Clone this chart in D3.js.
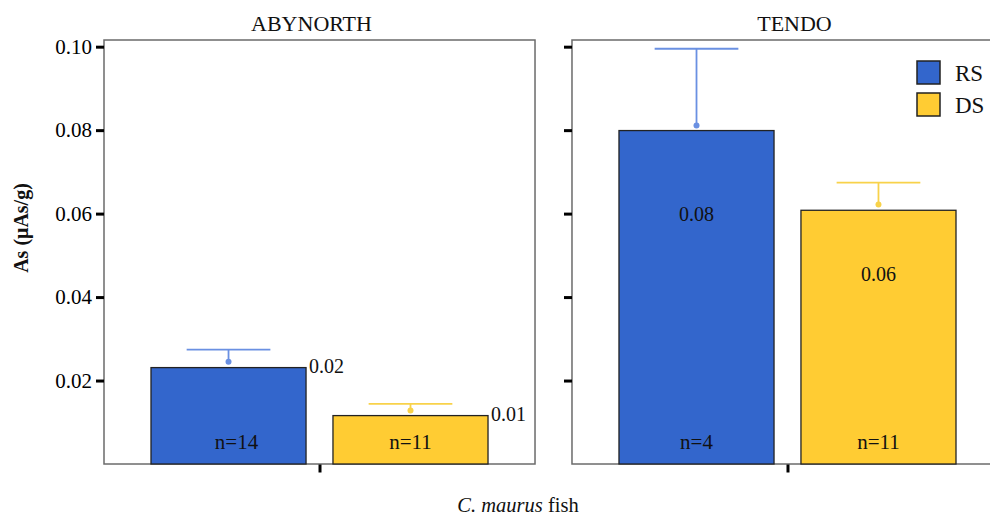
<!DOCTYPE html>
<html>
<head>
<meta charset="utf-8">
<script src="https://cdn.jsdelivr.net/npm/d3@7"></script>
<style>
  html, body { margin: 0; padding: 0; background: #fff; }
  svg { display: block; font-family: "Liberation Serif", "Times New Roman", serif; }
</style>
</head>
<body>
<svg id="chart" width="990" height="516"></svg>
<script>
// ---- data ----
const panels = ["ABYNORTH", "TENDO"];
const groups = ["RS", "DS"];
const category = "C. maurus fish";
const meanRS = [0.0231, 0.0799];
const meanDS = [0.0116, 0.0608];
const pointRS = [0.0245, 0.0811];
const pointDS = [0.0128, 0.0622];
const upperRS = [0.0274, 0.0995];
const upperDS = [0.0144, 0.0674];
const valueLabelRS = ["0.02", "0.08"];
const valueLabelDS = ["0.01", "0.06"];
const nLabelRS = ["n=14", "n=4"];
const nLabelDS = ["n=11", "n=11"];
const yTicks = [0.02, 0.04, 0.06, 0.08, 0.10];
const colors = { RS: "#3366CC", DS: "#FFCC33" };
const errColors = { RS: "#6A90E2", DS: "#F8D24A" };

const rows = [];
panels.forEach((p, i) => {
  rows.push({ panel: p, idx: i, group: "RS", mean: meanRS[i], point: pointRS[i], upper: upperRS[i], vlab: valueLabelRS[i], nlab: nLabelRS[i] });
  rows.push({ panel: p, idx: i, group: "DS", mean: meanDS[i], point: pointDS[i], upper: upperDS[i], vlab: valueLabelDS[i], nlab: nLabelDS[i] });
});

const svg = d3.select("#chart");

// ---- scales ----
const fx = d3.scaleBand().domain(panels).range([104, 1003]).paddingInner(0.079).paddingOuter(0);
const pw = fx.bandwidth();
const xCat = d3.scaleBand().domain([category]).range([0, pw]).paddingInner(0).paddingOuter(0);
const xg = d3.scaleBand().domain(groups)
  .range([xCat(category) + 47, xCat(category) + pw - 47])
  .paddingInner(0.148).paddingOuter(0);
const y = d3.scaleLinear().domain([0, 0.1016]).range([464, 40]);

const fmt = d3.format(".2f");

panels.forEach((p, i) => {
  const g = svg.append("g").attr("transform", `translate(${fx(p)},0)`);
  // panel frame
  g.append("rect")
    .attr("x", 0).attr("y", y.range()[1])
    .attr("width", pw).attr("height", y.range()[0] - y.range()[1])
    .attr("fill", "#fff").attr("stroke", "#6b6b6b").attr("stroke-width", 1.5);

  // y axis ticks
  const ax = d3.axisLeft(y).tickValues(yTicks).tickSize(8).tickPadding(4)
    .tickFormat(i === 0 ? fmt : () => "");
  const axG = g.append("g").call(ax);
  axG.select(".domain").remove();
  axG.selectAll(".tick line").attr("stroke", "#000").attr("stroke-width", 3);
  axG.selectAll(".tick text")
    .attr("font-family", "'Liberation Serif', serif")
    .attr("font-size", 21).attr("fill", "#000");

  // x axis tick (single category)
  const bx = d3.axisBottom(d3.scalePoint().domain([category]).range([pw / 2, pw / 2]))
    .tickSize(8).tickFormat(() => "");
  const bxG = g.append("g").attr("transform", `translate(0,${y(0) + 0.5})`).call(bx);
  bxG.select(".domain").remove();
  bxG.selectAll(".tick line").attr("stroke", "#000").attr("stroke-width", 3);

  // panel title
  g.append("text")
    .attr("x", pw / 2 + (i === 0 ? -8 : 7)).attr("y", 31)
    .attr("text-anchor", "middle").attr("font-size", 22)
    .attr("fill", "#111")
    .text(p);

  const data = rows.filter(r => r.panel === p);
  const bw = xg.bandwidth();

  // bars
  g.selectAll("rect.bar").data(data).join("rect").attr("class", "bar")
    .attr("x", d => xg(d.group)).attr("y", d => y(d.mean))
    .attr("width", bw).attr("height", d => y(0) - y(d.mean))
    .attr("fill", d => colors[d.group]).attr("stroke", "#222").attr("stroke-width", 1.3);

  // error bars
  const capW = bw * 0.54;
  g.selectAll("line.err").data(data).join("line").attr("class", "err")
    .attr("x1", d => xg(d.group) + bw / 2).attr("x2", d => xg(d.group) + bw / 2)
    .attr("y1", d => y(d.point)).attr("y2", d => y(d.upper))
    .attr("stroke", d => errColors[d.group]).attr("stroke-width", 1.8);
  g.selectAll("line.cap").data(data).join("line").attr("class", "cap")
    .attr("x1", d => xg(d.group) + bw / 2 - capW / 2).attr("x2", d => xg(d.group) + bw / 2 + capW / 2)
    .attr("y1", d => y(d.upper)).attr("y2", d => y(d.upper))
    .attr("stroke", d => errColors[d.group]).attr("stroke-width", 1.8);
  g.selectAll("circle.pt").data(data).join("circle").attr("class", "pt")
    .attr("cx", d => xg(d.group) + bw / 2).attr("cy", d => y(d.point))
    .attr("r", 3).attr("fill", d => errColors[d.group]);

  // value labels
  g.selectAll("text.vlab").data(data).join("text").attr("class", "vlab")
    .attr("x", d => i === 0 ? xg(d.group) + bw + 3 : xg(d.group) + bw / 2)
    .attr("y", d => i === 0 ? y(d.mean) - 2 : y(d.mean) + (y(0) - y(d.mean)) * 0.25)
    .attr("text-anchor", i === 0 ? "start" : "middle")
    .attr("dominant-baseline", "central")
    .attr("font-size", 20).attr("fill", "#111")
    .text(d => d.vlab);

  // n labels
  g.selectAll("text.nlab").data(data).join("text").attr("class", "nlab")
    .attr("x", d => xg(d.group) + bw / 2 + (d.nlab === "n=14" ? 8 : 0))
    .attr("y", y(0) - 22)
    .attr("text-anchor", "middle").attr("dominant-baseline", "central")
    .attr("font-size", 21).attr("fill", "#111")
    .text(d => d.nlab);
});

// legend
const lg = svg.append("g").attr("transform", "translate(917,61)");
groups.forEach((gname, k) => {
  lg.append("rect").attr("x", 0).attr("y", k * 32).attr("width", 23).attr("height", 23)
    .attr("fill", colors[gname]).attr("stroke", "#222").attr("stroke-width", 1.5);
  lg.append("text").attr("x", 38).attr("y", k * 32 + 12)
    .attr("dominant-baseline", "central").attr("font-size", 23).attr("fill", "#111")
    .text(gname);
});

// y axis title
svg.append("text")
  .attr("transform", "translate(21,228) rotate(-90)")
  .attr("text-anchor", "middle").attr("dominant-baseline", "central")
  .attr("font-size", 20).attr("font-weight", "bold").attr("fill", "#111")
  .text("As (μAs/g)");

// x axis title
const xt = svg.append("text")
  .attr("x", 518).attr("y", 512)
  .attr("text-anchor", "middle").attr("font-size", 20.5).attr("fill", "#111");
xt.append("tspan").attr("font-style", "italic").text("C. maurus");
xt.append("tspan").text(" fish");
</script>
</body>
</html>
